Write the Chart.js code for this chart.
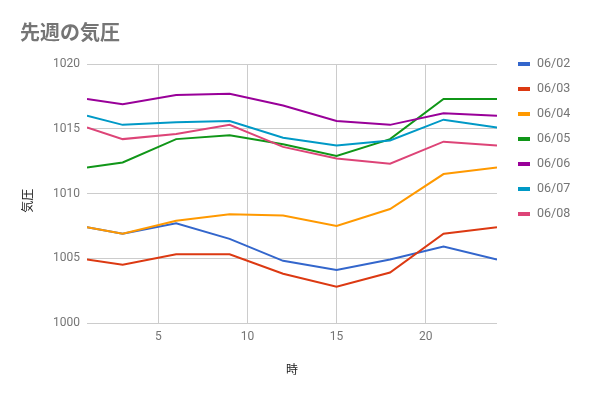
<!DOCTYPE html>
<html>
<head>
<meta charset="utf-8">
<script src="https://cdn.jsdelivr.net/npm/chart.js@4/dist/chart.umd.min.js"></script>
<style>
  body { margin: 0; background: #fff; }
  canvas { display: block; }
</style>
</head>
<body>
<canvas id="pressureChart" width="591" height="397"></canvas>
<script>
var hours = [1, 3, 6, 9, 12, 15, 18, 21, 24];
var days = ["06/02", "06/03", "06/04", "06/05", "06/06", "06/07", "06/08"];

var p0602 = [1007.4, 1006.9, 1007.7, 1006.5, 1004.8, 1004.1, 1004.9, 1005.9, 1004.9];
var p0603 = [1004.9, 1004.5, 1005.3, 1005.3, 1003.8, 1002.8, 1003.9, 1006.9, 1007.4];
var p0604 = [1007.4, 1006.9, 1007.9, 1008.4, 1008.3, 1007.5, 1008.8, 1011.5, 1012.0];
var p0605 = [1012.0, 1012.4, 1014.2, 1014.5, 1013.8, 1012.9, 1014.2, 1017.3, 1017.3];
var p0606 = [1017.3, 1016.9, 1017.6, 1017.7, 1016.8, 1015.6, 1015.3, 1016.2, 1016.0];
var p0607 = [1016.0, 1015.3, 1015.5, 1015.6, 1014.3, 1013.7, 1014.1, 1015.7, 1015.1];
var p0608 = [1015.1, 1014.2, 1014.6, 1015.3, 1013.6, 1012.7, 1012.3, 1014.0, 1013.7];

var yTicks = [1000, 1005, 1010, 1015, 1020];
var xTicks = [5, 10, 15, 20];

var series = [p0602, p0603, p0604, p0605, p0606, p0607, p0608];
var colors = ["#3366cc", "#dc3912", "#ff9900", "#109618", "#990099", "#0099c6", "#dd4477"];

var datasets = [];
for (var i = 0; i < series.length; i++) {
    var pts = [];
    for (var j = 0; j < hours.length; j++) {
        pts.push({ x: hours[j], y: series[i][j] });
    }
    datasets.push({
        label: days[i],
        data: pts,
        borderColor: colors[i],
        backgroundColor: colors[i],
        borderWidth: 2,
        pointRadius: 0,
        tension: 0,
        order: series.length - i // later days drawn on top
    });
}

// legend on the right, drawn by hand so it lines up with the plot
var sideLegend = {
    id: 'sideLegend',
    afterDraw: function (chart) {
        var ctx = chart.ctx;
        ctx.save();
        ctx.font = '12.5px Roboto';
        ctx.textBaseline = 'middle';
        ctx.textAlign = 'left';
        chart.data.datasets.forEach(function (ds, k) {
            var y = 64 + k * 25;
            ctx.fillStyle = ds.borderColor;
            ctx.fillRect(518, y - 2, 12, 4);
            ctx.fillStyle = '#757575';
            ctx.fillText(ds.label, 537, y);
        });
        ctx.restore();
    }
};

var ctx = document.getElementById('pressureChart').getContext('2d');
var myChart = new Chart(ctx, {
    type: 'line',
    data: { datasets: datasets },
    plugins: [sideLegend],
    options: {
        responsive: false,
        animation: false,
        layout: { padding: { left: 20, right: 94, top: 0, bottom: 0 } },
        plugins: {
            legend: { display: false },
            tooltip: { enabled: false },
            title: {
                display: true,
                text: '先週の気圧',
                align: 'start',
                color: '#757575',
                font: { family: '"Noto Sans CJK JP", sans-serif', size: 20, weight: 'bold' },
                padding: { top: 20, bottom: 20 }
            }
        },
        scales: {
            x: {
                type: 'linear',
                min: hours[0],
                max: hours[hours.length - 1],
                afterBuildTicks: function (scale) {
                    scale.ticks = xTicks.map(function (v) { return { value: v }; });
                },
                afterFit: function (scale) { scale.height = 74; },
                grid: { color: '#cccccc', drawTicks: false },
                border: { display: false },
                ticks: {
                    color: '#757575',
                    padding: 7,
                    font: { family: 'Roboto', size: 12 },
                    callback: function (v) { return String(v); }
                },
                title: {
                    display: true,
                    text: '時',
                    color: '#222222',
                    font: { family: '"Noto Sans CJK JP", sans-serif', size: 12 },
                    padding: { top: 0, bottom: 20 }
                }
            },
            y: {
                min: yTicks[0],
                max: yTicks[yTicks.length - 1],
                afterBuildTicks: function (scale) {
                    scale.ticks = yTicks.map(function (v) { return { value: v }; });
                },
                afterFit: function (scale) { scale.width = 67; },
                grid: { color: '#cccccc', drawTicks: false },
                border: { display: false },
                ticks: {
                    color: '#757575',
                    padding: 7,
                    font: { family: 'Roboto', size: 12 },
                    callback: function (v) { return String(v); }
                },
                title: {
                    display: true,
                    text: '気圧\u3000 ',
                    color: '#222222',
                    font: { family: '"Noto Sans CJK JP", sans-serif', size: 12 },
                    padding: { top: 0, bottom: 0 }
                }
            }
        }
    }
});
</script>
</body>
</html>
